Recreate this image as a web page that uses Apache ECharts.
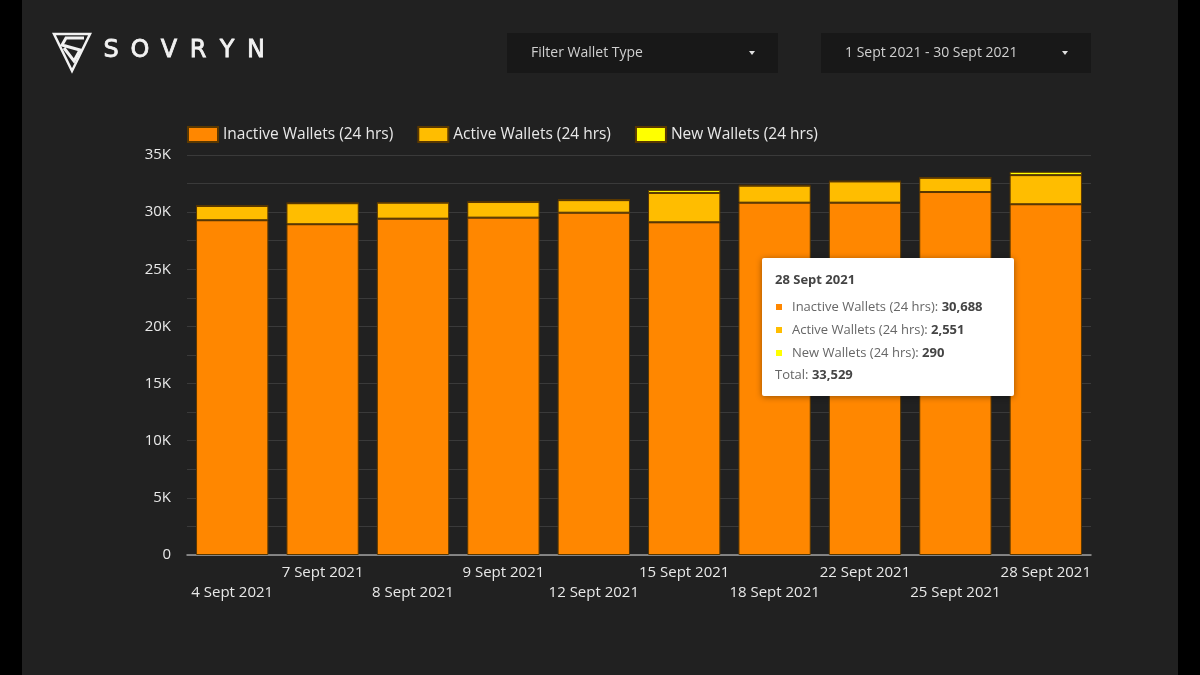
<!DOCTYPE html>
<html>
<head>
<meta charset="utf-8">
<script src="https://cdn.jsdelivr.net/npm/echarts@6/dist/echarts.min.js"></script>
<style>
  html, body { margin: 0; padding: 0; background: #000; }
  #panel { position: absolute; left: 22px; top: 0; width: 1156px; height: 675px; background: #212121; }
  #chart { position: absolute; left: 0; top: 0; width: 1200px; height: 675px; }
</style>
</head>
<body>
<div id="panel"></div>
<div id="chart"></div>
<script>
var dates = ['4 Sept 2021', '7 Sept 2021', '8 Sept 2021', '9 Sept 2021', '12 Sept 2021',
    '15 Sept 2021', '18 Sept 2021', '22 Sept 2021', '25 Sept 2021', '28 Sept 2021'];
var inactiveWallets = [29290, 28940, 29430, 29520, 29950, 29110, 30830, 30830, 31760, 30688];
var activeWallets = [1254, 1840, 1400, 1366, 1100, 2570, 1485, 1855, 1246, 2551];
var newWallets = [20, 20, 30, 30, 100, 260, 60, 40, 40, 290];
var seriesNames = ['Inactive Wallets (24 hrs)', 'Active Wallets (24 hrs)', 'New Wallets (24 hrs)'];
var seriesColors = ['#ff8700', '#ffbd00', '#ffff00'];
var logoLetters = ['S', 'O', 'V', 'R', 'Y', 'N'];
var tipIndex = 9;

var FONT = 'Open Sans';
var chart = echarts.init(document.getElementById('chart'));

function fmt(n) {
    return String(n).replace(/\B(?=(\d{3})+(?!\d))/g, ',');
}

// logo + filter boxes
var graphics = [];
graphics.push({
    type: 'polygon',
    shape: { points: [[54, 34], [90, 34], [72, 71]] },
    style: { fill: 'none', stroke: '#f2f2f2', lineWidth: 2.5 }
});
graphics.push({
    type: 'polyline',
    shape: { points: [[84, 38], [66, 38], [62, 45], [80, 50], [74, 61], [64, 48]] },
    style: { fill: 'none', stroke: '#f2f2f2', lineWidth: 3 }
});
for (var k = 0; k < logoLetters.length; k++) {
    graphics.push({
        type: 'text',
        x: 111 + k * 29,
        y: 51,
        style: {
            text: logoLetters[k],
            font: '24px "DejaVu Sans"',
            fill: '#f2f2f2',
            stroke: '#f2f2f2',
            lineWidth: 0.8,
            align: 'center',
            verticalAlign: 'middle'
        }
    });
}
function dropdown(x, w, label) {
    graphics.push({
        type: 'rect',
        shape: { x: x, y: 33, width: w, height: 40 },
        style: { fill: '#181818' }
    });
    graphics.push({
        type: 'text',
        x: x + 24,
        y: 53,
        style: { text: label, font: '14px "' + FONT + '"', fill: '#d0d0d0', verticalAlign: 'middle' }
    });
    graphics.push({
        type: 'polygon',
        shape: { points: [[x + w - 29, 51], [x + w - 23, 51], [x + w - 26, 55]] },
        style: { fill: '#e0e0e0' }
    });
}
dropdown(507, 271, 'Filter Wallet Type');
dropdown(821, 270, '1 Sept 2021 - 30 Sept 2021');

var allData = [inactiveWallets, activeWallets, newWallets];
var series = [];
for (var s = 0; s < 3; s++) {
    series.push({
        name: seriesNames[s],
        type: 'bar',
        stack: 'total',
        barCategoryGap: '20%',
        animation: false,
        itemStyle: {
            color: seriesColors[s],
            borderColor: '#5a3800',
            borderWidth: 1
        },
        emphasis: { disabled: true },
        data: allData[s]
    });
}

var option = {
    backgroundColor: 'transparent',
    textStyle: { fontFamily: FONT },
    graphic: graphics,
    legend: {
        left: 187,
        top: 126,
        padding: 0,
        icon: 'rect',
        itemWidth: 30,
        itemHeight: 15,
        itemGap: 24,
        textStyle: { color: '#e8e8e8', fontSize: 15.5, fontFamily: FONT },
        data: seriesNames
    },
    grid: {
        left: 187,
        right: 109,
        top: 155,
        bottom: 120
    },
    tooltip: {
        trigger: 'item',
        triggerOn: 'none',
        alwaysShowContent: true,
        transitionDuration: 0,
        backgroundColor: '#ffffff',
        borderWidth: 0,
        padding: [11, 13, 11, 13],
        extraCssText: 'box-shadow: 0 1px 6px rgba(0,0,0,0.4); border-radius: 2px; width: 226px;',
        textStyle: { color: '#666', fontSize: 13, fontFamily: FONT },
        position: function() {
            return [762, 258];
        },
        formatter: function(p) {
            var i = p.dataIndex;
            var html = '<div style="font-weight:bold;color:#444;line-height:20px;margin-bottom:6px">' + dates[i] + '</div>';
            var total = 0;
            for (var j = 0; j < 3; j++) {
                var v = allData[j][i];
                total += v;
                html += '<div style="line-height:23px">' +
                    '<span style="display:inline-block;width:6px;height:6px;background:' + seriesColors[j] +
                    ';margin:0 10px 1px 1px;vertical-align:middle"></span>' +
                    seriesNames[j] + ': <b style="color:#444">' + fmt(v) + '</b></div>';
            }
            html += '<div style="line-height:21px">Total: <b style="color:#444">' + fmt(total) + '</b></div>';
            return html;
        }
    },
    xAxis: {
        type: 'category',
        data: dates,
        axisTick: { show: false },
        axisLine: { lineStyle: { color: '#a0a0a0', width: 1.5 } },
        axisLabel: {
            interval: 0,
            color: '#e8e8e8',
            fontSize: 15,
            lineHeight: 20,
            margin: 8,
            formatter: function(v, i) {
                return i % 2 === 0 ? '\n' + v : v;
            }
        }
    },
    yAxis: {
        type: 'value',
        min: 0,
        max: 35000,
        interval: 5000,
        axisLine: { show: false },
        axisTick: { show: false },
        axisLabel: {
            color: '#e8e8e8',
            fontSize: 15,
            margin: 16,
            formatter: function(v) {
                return v === 0 ? '0' : (v / 1000) + 'K';
            }
        },
        splitLine: { lineStyle: { color: '#3a3a3a', width: 1 } },
        minorTick: { show: false, splitNumber: 2 },
        minorSplitLine: { show: true, lineStyle: { color: '#3a3a3a', width: 1 } }
    },
    series: series
};

chart.setOption(option);
chart.dispatchAction({ type: 'showTip', seriesIndex: 0, dataIndex: tipIndex });
</script>
</body>
</html>
